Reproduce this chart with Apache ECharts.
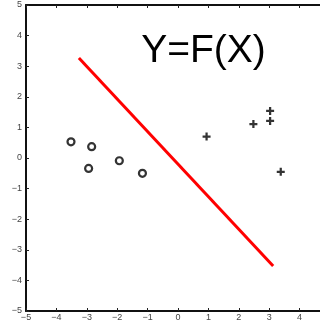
<!DOCTYPE html>
<html>
<head>
<meta charset="utf-8">
<script src="https://cdn.jsdelivr.net/npm/echarts@6/dist/echarts.min.js"></script>
<style>
html,body{margin:0;padding:0;background:#fff;}
#chart{width:320px;height:323px;}
</style>
</head>
<body>
<div id="chart"></div>
<script>
const titleText = 'Y=F(X)';
const axisTicks = [-5, -4, -3, -2, -1, 0, 1, 2, 3, 4, 5];
const circleX = [-3.52, -2.84, -2.94, -1.93, -1.17];
const circleY = [0.53, 0.37, -0.34, -0.09, -0.50];
const plusX = [0.94, 2.48, 3.03, 3.03, 3.38];
const plusY = [0.70, 1.11, 1.54, 1.21, -0.45];
const lineX = [-3.26, 3.13];
const lineY = [3.27, -3.53];

const zip = (a, b) => a.map((v, i) => [v, b[i]]);
const fmt = v => String(v).replace('-', '\u2212');
const axisLineStyle = { color: '#111', width: 2 };
const baseAxis = {
  type: 'value', min: axisTicks[0], max: axisTicks[axisTicks.length - 1], interval: 1,
  splitLine: { show: false },
  axisLine: { show: true, onZero: false, lineStyle: axisLineStyle },
  axisTick: { show: true, inside: true, length: 3, lineStyle: { color: '#222', width: 1 } }
};

const chart = echarts.init(document.getElementById('chart'), null, { renderer: 'canvas' });
chart.setOption({
  animation: false,
  backgroundColor: '#fff',
  grid: { left: 26, top: 5, width: 304, height: 306, containLabel: false, outerBoundsMode: 'none' },
  xAxis: [
    Object.assign({}, baseAxis, { position: 'bottom',
      axisLabel: { show: true, formatter: fmt, fontSize: 9, color: '#444', margin: 2, fontFamily: 'Liberation Sans' } }),
    Object.assign({}, baseAxis, { position: 'top', axisLabel: { show: false } })
  ],
  yAxis: [
    Object.assign({}, baseAxis, { position: 'left',
      axisLabel: { show: true, formatter: fmt, fontSize: 9, color: '#444', margin: 4, fontFamily: 'Liberation Sans' } }),
    Object.assign({}, baseAxis, { position: 'right', axisLabel: { show: false } })
  ],
  series: [
    {
      type: 'line', data: zip(lineX, lineY), symbol: 'none',
      lineStyle: { color: '#ff0000', width: 3 }, z: 1
    },
    {
      type: 'scatter', data: zip(circleX, circleY), symbol: 'circle', symbolSize: 7,
      itemStyle: { color: 'rgba(0,0,0,0)', borderColor: '#000', borderWidth: 2.2 }, z: 2
    },
    {
      type: 'scatter', data: zip(plusX, plusY),
      symbol: 'path://M3.6,0H6.4V3.6H10V6.4H6.4V10H3.6V6.4H0V3.6H3.6Z', symbolSize: 8,
      itemStyle: { color: '#000' }, z: 2
    }
  ],
  graphic: [{
    type: 'text', x: 203.5, y: 51, z: 10,
    style: { text: titleText, fill: '#000', font: '39px "Liberation Sans"', textAlign: 'center', textVerticalAlign: 'middle' }
  }]
});
</script>
</body>
</html>
